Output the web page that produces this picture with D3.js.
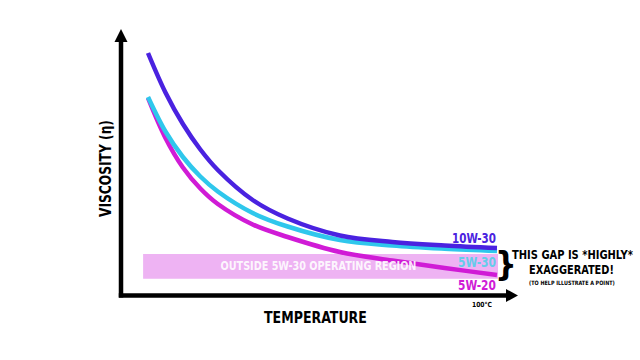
<!DOCTYPE html>
<html><head><meta charset="utf-8">
<script src="https://cdn.jsdelivr.net/npm/d3@7"></script>
<style>
html,body{margin:0;padding:0;background:#fff;}
svg{display:block;}
text{font-family:"Liberation Sans Narrow","DejaVu Sans Condensed","Liberation Sans",sans-serif;font-weight:bold;}
</style></head>
<body>
<svg id="c" width="640" height="360"></svg>
<script>
// temperature (relative, 0..100 = 100°C at right) and viscosity (relative units)
const temps = [0, 5, 10, 15, 20, 30, 40, 55, 70, 85, 100];
const visc10W30 = [94.8, 79.0, 66.4, 56.2, 48.0, 36.0, 28.6, 21.8, 19.2, 17.8, 16.8];
const visc5W30  = [77.2, 63.4, 53.2, 45.4, 39.4, 30.8, 25.4, 20.0, 17.8, 16.5, 15.6];
const visc5W20  = [76.8, 60.8, 49.0, 40.6, 34.4, 26.2, 21.2, 15.2, 11.8, 8.8, 6.0];
const seriesNames = ["10W-30", "5W-30", "5W-20"];
const regionLow = 4.5, regionHigh = 14.4, regionT0 = -1.4, regionT1 = 100.3;
const regionLabel = "OUTSIDE 5W-30 OPERATING REGION";
const xTitle = "TEMPERATURE", yTitle = "VISCOSITY (\u03B7)", xEndLabel = "100\u00B0C";
const noteLines = ["THIS GAP IS *HIGHLY*", "EXAGGERATED!", "(TO HELP ILLUSTRATE A POINT)"];

const svg = d3.select("#c");
const x = d3.scaleLinear().domain([0, 100]).range([148, 497]);
const y = d3.scaleLinear().domain([0, 100]).range([290, 40]);

const colors = {"10W-30": "#4a22e0", "5W-30": "#2fc7ec", "5W-20": "#d01bd6"};
const labelColors = {"10W-30": "#4a22e0", "5W-30": "#63cdea", "5W-20": "#d01bd6"};
const data = {"10W-30": visc10W30, "5W-30": visc5W30, "5W-20": visc5W20};

// fitted text: draws text horizontally squeezed to a target width
function fitText(cx, by, str, fs, w, fill, anchor, rot) {
  const g = svg.append("g");
  const t = g.append("text").attr("font-size", fs).attr("fill", fill).text(str);
  const nat = t.node().getComputedTextLength();
  const s = w / nat;
  t.attr("x", anchor === "start" ? 0 : -nat / 2).attr("y", 0);
  g.attr("transform", `translate(${cx},${by})` + (rot ? ` rotate(${rot})` : "") + ` scale(${s},1)`);
  return t;
}

// region band
svg.append("rect")
  .attr("x", x(regionT0)).attr("y", y(regionHigh))
  .attr("width", x(regionT1) - x(regionT0)).attr("height", y(regionLow) - y(regionHigh))
  .attr("fill", "#eeb3f3");

// curves
const line = d3.line().x((d, i) => x(temps[i])).y(d => y(d)).curve(d3.curveCatmullRom.alpha(0.5));
["5W-20", "5W-30", "10W-30"].forEach(n => {
  svg.append("path").datum(data[n]).attr("d", line)
    .attr("fill", "none").attr("stroke", colors[n]).attr("stroke-width", 4.5);
});

fitText((x(regionT0)+x(regionT1))/2 - 2, 270, regionLabel, 11.5, 196, "#ffffff").attr("fill-opacity", 0.9);

// axes
const ax0 = 121, ay0 = 295.5;
svg.append("line").attr("x1", ax0).attr("x2", ax0).attr("y1", 297.5).attr("y2", 40)
  .attr("stroke", "#000").attr("stroke-width", 4.5);
svg.append("path").attr("d", `M${ax0-6.5},42 L${ax0},29 L${ax0+6.5},42 Z`).attr("fill", "#000");
svg.append("line").attr("x1", 118.8).attr("x2", 508).attr("y1", ay0).attr("y2", ay0)
  .attr("stroke", "#000").attr("stroke-width", 4.5);
svg.append("path").attr("d", `M506,${ay0-6.5} L518,${ay0} L506,${ay0+6.5} Z`).attr("fill", "#000");

// axis titles
fitText(315.5, 323, xTitle, 15.5, 103, "#000");
fitText(110.5, 168.5, yTitle, 15.5, 97, "#000", "middle", -90);
fitText(482, 307, xEndLabel, 7, 20, "#000");

// series labels
const lblY = {"10W-30": 242.7, "5W-30": 267, "5W-20": 290};
const lblX0 = {"10W-30": 452, "5W-30": 458, "5W-20": 458};
seriesNames.forEach(n => {
  fitText((lblX0[n] + 496) / 2, lblY[n], n, 13.5, 496 - lblX0[n], labelColors[n]);
});

// brace + note
svg.append("text").attr("x", 506).attr("y", 276).attr("text-anchor", "middle")
  .attr("font-size", 34).attr("font-weight", "normal")
  .style("font-family", "'DejaVu Sans Condensed','DejaVu Sans',sans-serif")
  .attr("fill", "#000").text("}");
const noteCfg = [{y: 259, fs: 12.5, w: 121, cx: 572.5}, {y: 273.5, fs: 12.5, w: 85, cx: 571.5}, {y: 284.5, fs: 6, w: 86, cx: 572}];
noteLines.forEach((t, i) => {
  fitText(noteCfg[i].cx, noteCfg[i].y, t, noteCfg[i].fs, noteCfg[i].w, "#000");
});
</script>
</body></html>
